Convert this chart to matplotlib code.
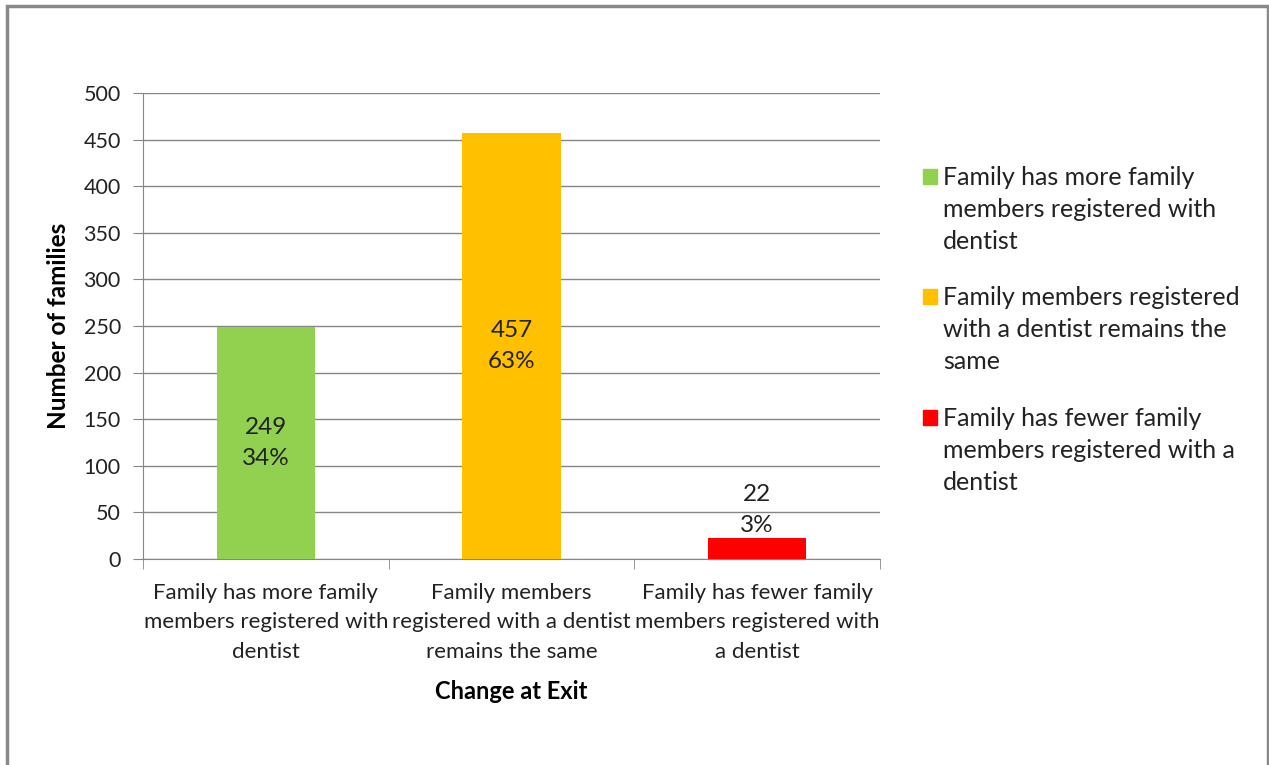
import matplotlib.pyplot as plt
from matplotlib.patches import Rectangle
import numpy as np

# Dados
categorias = ["Family has more family\nmembers registered with\ndentist",
              "Family members\nregistered with a dentist\nremains the same",
              "Family has fewer family\nmembers registered with\na dentist"]
legenda = ["Family has more family\nmembers registered with\ndentist",
           "Family members registered\nwith a dentist remains the\nsame",
           "Family has fewer family\nmembers registered with a\ndentist"]
valores = [249, 457, 22]
percentuais = ["34%", "63%", "3%"]
cores = ["#92D050", "#FFC000", "#FF0000"]

plt.rcParams['font.family'] = ['Lato', 'DejaVu Sans']

fig = plt.figure(figsize=(12.69, 7.65), dpi=100)
ax = fig.add_axes([143/1269, 1-559/765, (880-143)/1269, (559-93)/765])

x = np.arange(len(valores))
ax.bar(x, valores, width=0.4, color=cores, zorder=3)

# Rótulos das barras
for xi, v, p in zip(x, valores, percentuais):
    if v > 100:
        ax.text(xi, v/2, f"{v}\n{p}", ha='center', va='center', fontsize=17.5,
                color='#222222', linespacing=1.55, zorder=4)
    else:
        ax.text(xi, v + 3, f"{v}\n{p}", ha='center', va='bottom', fontsize=17.5,
                color='#222222', linespacing=1.55, zorder=4)

ax.set_xlim(-0.5, 2.5)
ax.set_ylim(0, 500)
ax.set_yticks(np.arange(0, 501, 50))
ax.yaxis.grid(True, color='#868686', linewidth=1, zorder=0)
ax.set_xticks(x)
ax.set_xticklabels(categorias, fontsize=16, color='#222222', linespacing=1.6)
ax.set_xticks([-0.5, 0.5, 1.5, 2.5], minor=True)
ax.tick_params(axis='x', which='major', length=0, pad=17)
ax.tick_params(axis='x', which='minor', length=7, color='#868686')
ax.tick_params(axis='y', length=7, color='#868686', labelsize=15.5, labelcolor='#222222', pad=9)

for s in ['top', 'right']:
    ax.spines[s].set_visible(False)
for s in ['left', 'bottom']:
    ax.spines[s].set_color('#868686')

ax.set_ylabel("Number of families", fontsize=17.5, fontweight='bold', labelpad=10)
ax.set_xlabel("Change at Exit", fontsize=17, fontweight='bold', labelpad=13)

# Legenda manual
y_leg = [177, 297, 418]
for yl, lab, c in zip(y_leg, legenda, cores):
    fig.add_artist(Rectangle((923/1269, 1-(yl+7)/765), 14/1269, 15/765,
                             transform=fig.transFigure, color=c))
    fig.text(943/1269, 1-(yl-11)/765, lab, fontsize=18, color='#222222',
             va='top', ha='left', linespacing=1.47)

# Moldura
fig.add_artist(Rectangle((7/1269, -0.05), (1268-7)/1269, 1.05-6/765,
                         transform=fig.transFigure, fill=False,
                         edgecolor='#898989', linewidth=2.5))

plt.savefig("out.png", dpi=100)
plt.close()
